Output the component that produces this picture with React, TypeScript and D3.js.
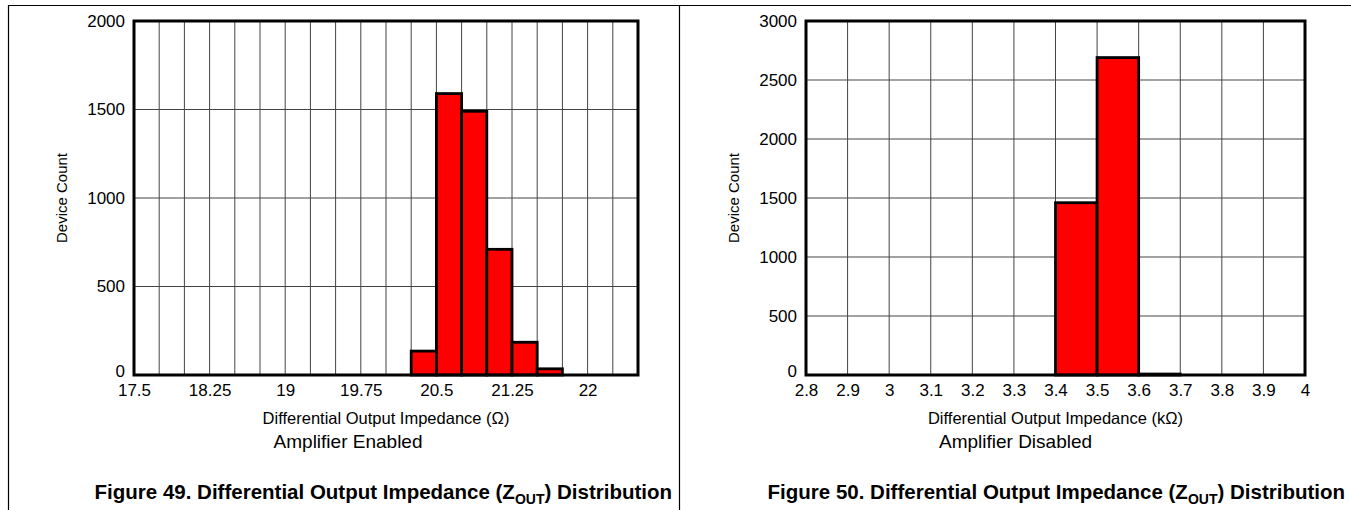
import React, { useRef, useEffect } from 'react';
import * as d3 from 'd3';

// bin starts (left edges) and counts
const enabledBins = [17.5, 17.75, 18, 18.25, 18.5, 18.75, 19, 19.25, 19.5, 19.75, 20, 20.25, 20.5, 20.75, 21, 21.25, 21.5, 21.75, 22, 22.25];
const enabledCounts = [0, 0, 0, 0, 0, 0, 0, 0, 0, 0, 0, 135, 1590, 1490, 710, 185, 35, 0, 0, 0];
const enabledTicks = [17.5, 18.25, 19, 19.75, 20.5, 21.25, 22];
const enabledYTicks = [0, 500, 1000, 1500, 2000];

const disabledBins = [2.8, 2.9, 3.0, 3.1, 3.2, 3.3, 3.4, 3.5, 3.6, 3.7, 3.8, 3.9];
const disabledCounts = [0, 0, 0, 0, 0, 0, 1460, 2690, 8, 0, 0, 0];
const disabledTicks = [2.8, 2.9, 3, 3.1, 3.2, 3.3, 3.4, 3.5, 3.6, 3.7, 3.8, 3.9, 4];
const disabledYTicks = [0, 500, 1000, 1500, 2000, 2500, 3000];

const FONT = '"Liberation Sans", Arial, Helvetica, sans-serif';

interface PanelOpts {
  left: number;
  right: number;
  top: number;
  bottom: number;
  xDomain: [number, number];
  yDomain: [number, number];
  binWidth: number;
  bins: number[];
  counts: number[];
  xTicks: number[];
  yTicks: number[];
  xTitle: string;
  subtitle: string;
  figNum: string;
  captionEnd: number;
}

function drawPanel(svg: d3.Selection<SVGSVGElement, unknown, null, undefined>, o: PanelOpts) {
  const x = d3.scaleLinear().domain(o.xDomain).range([o.left, o.right]);
  const y = d3.scaleLinear().domain(o.yDomain).range([o.bottom, o.top]);
  const g = svg.append('g');

  // vertical grid, one per bin edge
  const edges = o.bins.slice(1);
  g.selectAll('line.vg')
    .data(edges)
    .enter()
    .append('line')
    .attr('x1', (d) => x(d))
    .attr('x2', (d) => x(d))
    .attr('y1', o.top)
    .attr('y2', o.bottom)
    .attr('stroke', '#444')
    .attr('stroke-width', 1);

  g.selectAll('line.hg')
    .data(o.yTicks.slice(1, -1))
    .enter()
    .append('line')
    .attr('x1', o.left)
    .attr('x2', o.right)
    .attr('y1', (d) => y(d))
    .attr('y2', (d) => y(d))
    .attr('stroke', '#444')
    .attr('stroke-width', 1);

  // bars
  const data = o.bins.map((b, i) => ({ b, c: o.counts[i] })).filter((d) => d.c > 0);
  g.selectAll('rect')
    .data(data)
    .enter()
    .append('rect')
    .attr('x', (d) => x(d.b))
    .attr('y', (d) => y(d.c))
    .attr('width', (d) => x(d.b + o.binWidth) - x(d.b))
    .attr('height', (d) => y(0) - y(d.c))
    .attr('fill', '#ff0000')
    .attr('stroke', '#000')
    .attr('stroke-width', 2.8);

  // frame
  g.append('rect')
    .attr('x', o.left)
    .attr('y', o.top)
    .attr('width', o.right - o.left)
    .attr('height', o.bottom - o.top)
    .attr('fill', 'none')
    .attr('stroke', '#000')
    .attr('stroke-width', 3);

  // axes (labels only)
  const xa = g
    .append('g')
    .attr('transform', `translate(0, ${o.bottom})`)
    .call(d3.axisBottom(x).tickValues(o.xTicks).tickSize(0).tickPadding(9).tickFormat((d) => String(d)));
  xa.select('.domain').remove();
  xa.selectAll('text').attr('font-family', FONT).attr('font-size', 17).attr('fill', '#000');

  const ya = g
    .append('g')
    .attr('transform', `translate(${o.left}, 0)`)
    .call(d3.axisLeft(y).tickValues(o.yTicks).tickSize(0).tickPadding(9).tickFormat((d) => String(d)));
  ya.select('.domain').remove();
  ya.selectAll('text').attr('font-family', FONT).attr('font-size', 17).attr('fill', '#000');
  ya.selectAll('.tick')
    .filter((d) => d === 0)
    .select('text')
    .attr('dy', '0.1em');

  const cx = (o.left + o.right) / 2;
  g.append('text')
    .attr('transform', `translate(${o.left - 67}, ${(o.top + o.bottom) / 2}) rotate(-90)`)
    .attr('text-anchor', 'middle')
    .attr('font-family', FONT)
    .attr('font-size', 15)
    .text('Device Count');

  const xt = g
    .append('text')
    .attr('x', cx)
    .attr('y', 424)
    .attr('text-anchor', 'middle')
    .attr('font-family', FONT)
    .attr('font-size', 16.5)
    .text(o.xTitle);
  const w = (xt.node() as SVGTextElement).getComputedTextLength();

  g.append('text')
    .attr('x', cx - w / 2 + 11)
    .attr('y', 448)
    .attr('font-family', FONT)
    .attr('font-size', 19)
    .text(o.subtitle);

  const cap = g
    .append('text')
    .attr('x', o.captionEnd)
    .attr('y', 499)
    .attr('text-anchor', 'end')
    .attr('font-family', FONT)
    .attr('font-size', 20.5)
    .attr('font-weight', 'bold');
  cap.append('tspan').text(`Figure ${o.figNum}. Differential Output Impedance (Z`);
  cap.append('tspan').attr('font-size', 14).attr('dy', 5).text('OUT');
  cap.append('tspan').attr('dy', -5).text(') Distribution');
}

const App: React.FC = () => {
  const svgRef = useRef<SVGSVGElement | null>(null);

  useEffect(() => {
    const svg = d3.select(svgRef.current as SVGSVGElement);
    svg.selectAll('*').remove();

    svg.append('rect').attr('width', 1351).attr('height', 510).attr('fill', '#fff');

    // page frame lines
    svg.append('line').attr('x1', 8).attr('x2', 1351).attr('y1', 5.5).attr('y2', 5.5).attr('stroke', '#000').attr('stroke-width', 1.2);
    svg.append('line').attr('x1', 8.5).attr('x2', 8.5).attr('y1', 5).attr('y2', 510).attr('stroke', '#000').attr('stroke-width', 1.2);
    svg.append('line').attr('x1', 679.5).attr('x2', 679.5).attr('y1', 5).attr('y2', 510).attr('stroke', '#000').attr('stroke-width', 1.2);

    drawPanel(svg, {
      left: 134,
      right: 638,
      top: 21,
      bottom: 375,
      xDomain: [17.5, 22.5],
      yDomain: [0, 2000],
      binWidth: 0.25,
      bins: enabledBins,
      counts: enabledCounts,
      xTicks: enabledTicks,
      yTicks: enabledYTicks,
      xTitle: 'Differential Output Impedance (Ω)',
      subtitle: 'Amplifier Enabled',
      figNum: '49',
      captionEnd: 672,
    });

    drawPanel(svg, {
      left: 806,
      right: 1305,
      top: 21,
      bottom: 375,
      xDomain: [2.8, 4.0],
      yDomain: [0, 3000],
      binWidth: 0.1,
      bins: disabledBins,
      counts: disabledCounts,
      xTicks: disabledTicks,
      yTicks: disabledYTicks,
      xTitle: 'Differential Output Impedance (kΩ)',
      subtitle: 'Amplifier Disabled',
      figNum: '50',
      captionEnd: 1345,
    });
  }, []);

  return (
    <svg
      ref={svgRef}
      width={1351}
      height={510}
      style={{ position: 'absolute', left: 0, top: 0, display: 'block' }}
    ></svg>
  );
};

export default App;
